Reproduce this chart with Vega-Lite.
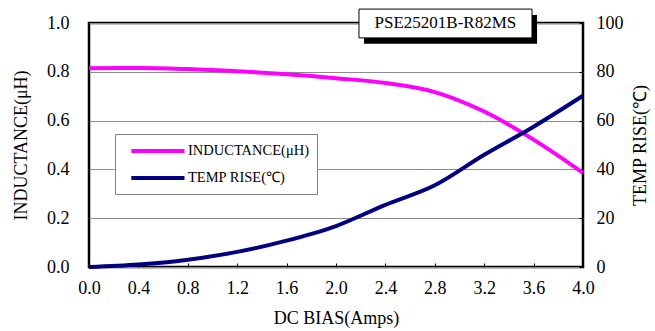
{
  "$schema": "https://vega.github.io/schema/vega-lite/v6.json",
  "width": 494,
  "height": 244,
  "autosize": {"type": "none"},
  "padding": {"left": 89, "top": 23, "right": 72, "bottom": 64},
  "background": "white",
  "config": {
    "view": {"stroke": "black", "strokeWidth": 2.5},
    "font": "Liberation Serif",
    "axis": {
      "labelFont": "Liberation Serif",
      "titleFont": "Liberation Serif",
      "labelFontSize": 18,
      "titleFontSize": 18,
      "titleFontWeight": "normal",
      "labelColor": "black",
      "titleColor": "black",
      "domain": false,
      "tickColor": "black",
      "labelFlush": false
    },
    "legend": {
      "labelFont": "Liberation Serif",
      "labelFontSize": 14.5,
      "labelColor": "black"
    }
  },
  "data": {
    "values": [
      {"amps": 0.0, "series": "INDUCTANCE(μH)", "value": 0.815},
      {"amps": 0.4, "series": "INDUCTANCE(μH)", "value": 0.816},
      {"amps": 0.8, "series": "INDUCTANCE(μH)", "value": 0.811},
      {"amps": 1.2, "series": "INDUCTANCE(μH)", "value": 0.802},
      {"amps": 1.6, "series": "INDUCTANCE(μH)", "value": 0.790},
      {"amps": 2.0, "series": "INDUCTANCE(μH)", "value": 0.774},
      {"amps": 2.4, "series": "INDUCTANCE(μH)", "value": 0.754},
      {"amps": 2.8, "series": "INDUCTANCE(μH)", "value": 0.717},
      {"amps": 3.2, "series": "INDUCTANCE(μH)", "value": 0.637},
      {"amps": 3.6, "series": "INDUCTANCE(μH)", "value": 0.522},
      {"amps": 4.0, "series": "INDUCTANCE(μH)", "value": 0.386},
      {"amps": 0.0, "series": "TEMP RISE(℃)", "value": 0.0},
      {"amps": 0.4, "series": "TEMP RISE(℃)", "value": 1.0},
      {"amps": 0.8, "series": "TEMP RISE(℃)", "value": 3.0},
      {"amps": 1.2, "series": "TEMP RISE(℃)", "value": 6.2},
      {"amps": 1.6, "series": "TEMP RISE(℃)", "value": 10.8},
      {"amps": 2.0, "series": "TEMP RISE(℃)", "value": 16.8},
      {"amps": 2.4, "series": "TEMP RISE(℃)", "value": 25.5},
      {"amps": 2.8, "series": "TEMP RISE(℃)", "value": 33.5},
      {"amps": 3.2, "series": "TEMP RISE(℃)", "value": 46.0},
      {"amps": 3.6, "series": "TEMP RISE(℃)", "value": 57.5},
      {"amps": 4.0, "series": "TEMP RISE(℃)", "value": 70.2}
    ]
  },
  "layer": [
    {
      "layer": [
        {
          "mark": {"type": "line", "strokeWidth": 4, "interpolate": "monotone"},
          "transform": [{"filter": "datum.series === 'INDUCTANCE(μH)'"}],
          "encoding": {
            "x": {
              "field": "amps", "type": "quantitative",
              "scale": {"domain": [0, 4], "nice": false},
              "axis": {
                "values": [0, 0.4, 0.8, 1.2, 1.6, 2.0, 2.4, 2.8, 3.2, 3.6, 4.0],
                "format": ".1f", "grid": false, "tickSize": -4, "labelPadding": 16,
                "title": "DC BIAS(Amps)", "titlePadding": 12
              }
            },
            "y": {
              "field": "value", "type": "quantitative",
              "scale": {"domain": [0, 1], "nice": false},
              "axis": {
                "orient": "left",
                "values": [0, 0.2, 0.4, 0.6, 0.8, 1.0],
                "format": ".1f", "grid": true, "gridColor": "#8c8c8c", "gridWidth": 1,
                "ticks": false, "labelPadding": 20,
                "title": "INDUCTANCE(μH)", "titlePadding": 16
              }
            },
            "color": {
              "field": "series", "type": "nominal",
              "scale": {"domain": ["INDUCTANCE(μH)", "TEMP RISE(℃)"], "range": ["#ff00ff", "#000080"]},
              "legend": {
                "title": null,
                "orient": "none",
                "legendX": 26,
                "legendY": 111,
                "direction": "vertical",
                "fillColor": "white",
                "strokeColor": "#808080",
                "padding": 8,
                "symbolType": "M-0.1,0H7.5",
                "symbolSize": 196,
                "symbolStrokeWidth": 4,
                "labelOffset": 47,
                "rowPadding": 10
              }
            }
          }
        },
        {
          "data": {"values": [{}]},
          "mark": {"type": "rect", "fill": "black"},
          "encoding": {
            "x": {"datum": 2.227, "type": "quantitative"},
            "x2": {"datum": 3.628},
            "y": {"datum": 1.033, "type": "quantitative"},
            "y2": {"datum": 0.915}
          }
        },
        {
          "data": {"values": [{}]},
          "mark": {"type": "rect", "fill": "white", "stroke": "black", "strokeWidth": 1},
          "encoding": {
            "x": {"datum": 2.186, "type": "quantitative"},
            "x2": {"datum": 3.587},
            "y": {"datum": 1.057, "type": "quantitative"},
            "y2": {"datum": 0.939}
          }
        },
        {
          "data": {"values": [{}]},
          "mark": {"type": "text", "font": "Liberation Serif", "fontSize": 17, "fill": "black", "align": "center", "baseline": "middle"},
          "encoding": {
            "x": {"datum": 2.886, "type": "quantitative"},
            "y": {"datum": 0.998, "type": "quantitative"},
            "text": {"value": "PSE25201B-R82MS"}
          }
        }
      ]
    },
    {
      "mark": {"type": "line", "strokeWidth": 4, "interpolate": "monotone"},
      "transform": [{"filter": "datum.series === 'TEMP RISE(℃)'"}],
      "encoding": {
        "x": {"field": "amps", "type": "quantitative"},
        "y": {
          "field": "value", "type": "quantitative",
          "scale": {"domain": [0, 100], "nice": false},
          "axis": {
            "orient": "right",
            "values": [0, 20, 40, 60, 80, 100],
            "grid": false, "tickSize": -4, "labelPadding": 17,
            "title": "TEMP RISE(℃)", "titleAngle": 270, "titlePadding": 26
          }
        },
        "color": {"field": "series", "type": "nominal"}
      }
    }
  ],
  "resolve": {"scale": {"y": "independent"}}
}
